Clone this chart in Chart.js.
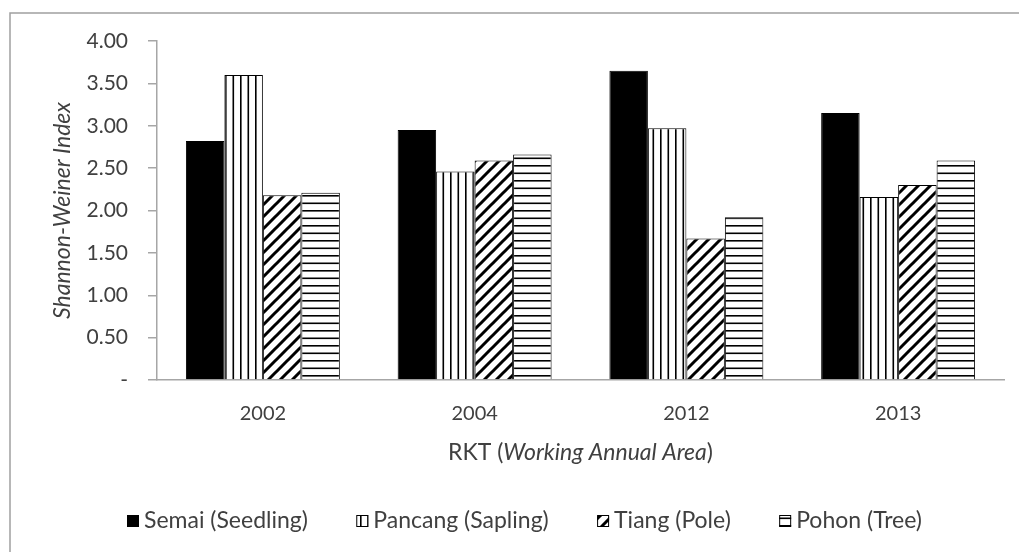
<!DOCTYPE html>
<html>
<head>
<meta charset="utf-8">
<script src="https://cdn.jsdelivr.net/npm/chart.js@4"></script>
<style>
  html, body { margin: 0; padding: 0; background: #fff; }
  #wrap { width: 1019px; height: 552px; }
</style>
</head>
<body>
<div id="wrap"><canvas id="myChart" width="1019" height="552"></canvas></div>
<script>
// chart data
const years = ["2002", "2004", "2012", "2013"];
const seriesNames = ["Semai (Seedling)", "Pancang (Sapling)", "Tiang (Pole)", "Pohon (Tree)"];
const semai = [2.82, 2.95, 3.65, 3.15];
const pancang = [3.60, 2.46, 2.97, 2.16];
const tiang = [2.18, 2.59, 1.67, 2.30];
const pohon = [2.21, 2.66, 1.92, 2.59];
const yTicks = [0, 0.5, 1, 1.5, 2, 2.5, 3, 3.5, 4];

const FONT = "Lato";
const TEXT = "#404040";
const AXIS = "#a6a6a6";

// hatch fills for the bars
function makePattern(kind) {
  const c = document.createElement("canvas");
  const s = kind === "diag" ? 12 : 15;
  c.width = s;
  c.height = s;
  const g = c.getContext("2d");
  g.fillStyle = "#fff";
  g.fillRect(0, 0, s, s);
  g.fillStyle = "#000";
  g.strokeStyle = "#000";
  if (kind === "vert") {
    g.fillRect(0, 0, 1.6, s);
    g.fillRect(7.5, 0, 1.6, s);
  } else if (kind === "horiz") {
    g.fillRect(0, 0, s, 1.6);
    g.fillRect(0, 7.5, s, 1.6);
  } else {
    g.lineWidth = 3;
    g.beginPath();
    g.moveTo(-6, 6); g.lineTo(6, -6);
    g.moveTo(0, s); g.lineTo(s, 0);
    g.moveTo(s - 6, s + 6); g.lineTo(s + 6, s - 6);
    g.stroke();
  }
  return g.createPattern(c, "repeat");
}

const fills = ["#000000", makePattern("vert"), makePattern("diag"), makePattern("horiz")];
const values = [semai, pancang, tiang, pohon];

// frame around the figure (only top and left edges are visible in the crop)
const framePlugin = {
  id: "frame",
  beforeDraw(chart) {
    const ctx = chart.ctx;
    ctx.save();
    ctx.strokeStyle = "#a0a0a0";
    ctx.lineWidth = 1.5;
    ctx.beginPath();
    ctx.moveTo(10, chart.height);
    ctx.lineTo(10, 13);
    ctx.lineTo(chart.width, 13);
    ctx.stroke();
    ctx.restore();
  },
};

// x axis title with the italic part
const xTitlePlugin = {
  id: "xTitle",
  afterDraw(chart) {
    const ctx = chart.ctx;
    const area = chart.chartArea;
    const parts = [
      ["RKT (", "normal"],
      ["Working Annual Area", "italic"],
      [")", "normal"],
    ];
    ctx.save();
    ctx.fillStyle = TEXT;
    ctx.textBaseline = "middle";
    let total = 0;
    for (const [t, st] of parts) {
      ctx.font = st + " 23px " + FONT;
      total += ctx.measureText(t).width;
    }
    let x = (area.left + area.right) / 2 - total / 2;
    for (const [t, st] of parts) {
      ctx.font = st + " 23px " + FONT;
      ctx.textAlign = "left";
      ctx.fillText(t, x, 453);
      x += ctx.measureText(t).width;
    }
    ctx.restore();
  },
};

// legend drawn under the plot, spread between x=127 and x=922
const legendPlugin = {
  id: "bottomLegend",
  afterDraw(chart) {
    const ctx = chart.ctx;
    const box = 12;
    const gapText = 5;
    const y = 521;
    const x0 = 127, x1 = 922;
    ctx.save();
    ctx.font = "23px " + FONT;
    ctx.textBaseline = "middle";
    const sets = chart.data.datasets;
    let used = 0;
    sets.forEach((d) => {
      used += box + gapText + ctx.measureText(d.label).width;
    });
    const gapItem = (x1 - x0 - used) / (sets.length - 1);
    let x = x0;
    sets.forEach((d) => {
      ctx.fillStyle = d.backgroundColor;
      ctx.fillRect(x, y - box / 2, box, box);
      ctx.strokeStyle = "#000";
      ctx.lineWidth = 1;
      ctx.strokeRect(x + 0.5, y - box / 2 + 0.5, box - 1, box - 1);
      x += box + gapText;
      ctx.fillStyle = TEXT;
      ctx.fillText(d.label, x, y);
      x += ctx.measureText(d.label).width + gapItem;
    });
    ctx.restore();
  },
};

const ctx = document.getElementById("myChart").getContext("2d");

const myChart = new Chart(ctx, {
  type: "bar",
  data: {
    labels: years,
    datasets: seriesNames.map((name, i) => ({
      label: name,
      data: values[i],
      backgroundColor: fills[i],
      borderColor: "#000",
      borderWidth: 1,
      categoryPercentage: 0.727,
      barPercentage: 1.0,
    })),
  },
  options: {
    responsive: false,
    devicePixelRatio: 1,
    animation: false,
    layout: {
      padding: { left: 0, top: 41, right: 15, bottom: 0 },
    },
    scales: {
      x: {
        grid: { display: false, drawTicks: false },
        border: { color: AXIS, width: 1.5 },
        ticks: {
          color: TEXT,
          font: { family: FONT, size: 20 },
          padding: 22,
        },
        afterFit(scale) {
          scale.height = 172;
        },
      },
      y: {
        min: 0,
        max: 4,
        afterBuildTicks(scale) {
          scale.ticks = yTicks.map((v) => ({ value: v }));
        },
        grid: {
          drawOnChartArea: false,
          drawTicks: true,
          tickLength: 9,
          color: AXIS,
          lineWidth: 1.5,
        },
        border: { color: AXIS, width: 1.5 },
        ticks: {
          color: TEXT,
          font: { family: FONT, size: 21 },
          padding: 20,
          callback: (v) => (v === 0 ? "-" : Number(v).toFixed(2)),
        },
        title: {
          display: true,
          text: "Shannon-Weiner Index",
          color: TEXT,
          font: { family: FONT, size: 23, style: "italic" },
          padding: { top: 49, bottom: 0 },
        },
        afterFit(scale) {
          scale.width = 157;
        },
      },
    },
    plugins: {
      legend: { display: false },
      tooltip: { enabled: false },
    },
  },
  plugins: [framePlugin, xTitlePlugin, legendPlugin],
});
</script>
</body>
</html>
